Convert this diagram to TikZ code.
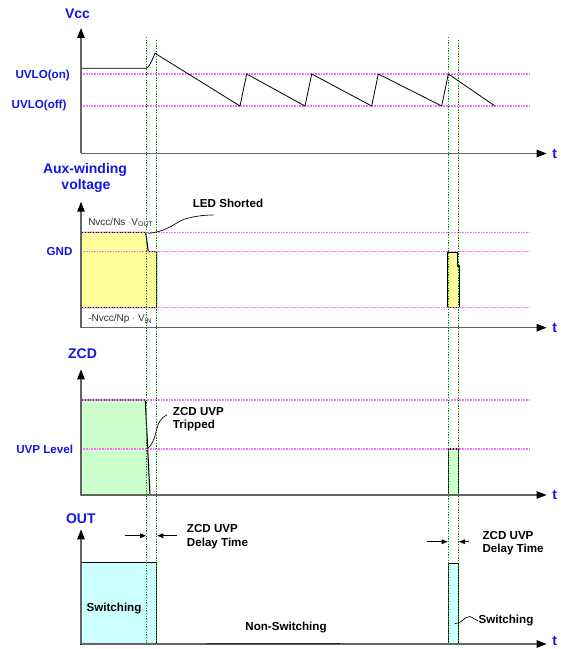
\documentclass[tikz,border=0pt]{standalone}
\usepackage{fontspec}
\setmainfont{Liberation Sans}
\usepackage{xcolor}
\usetikzlibrary{arrows.meta}

\definecolor{axisblue}{RGB}{20,20,230}
\definecolor{axisgray}{RGB}{100,100,100}
\definecolor{levelpink}{RGB}{255,110,255}
\definecolor{delaygreen}{RGB}{0,150,0}
\definecolor{auxyellow}{RGB}{255,255,153}
\definecolor{zcdgreen}{RGB}{204,255,204}
\definecolor{outcyan}{RGB}{204,255,255}

\newcommand{\sigfont}{\bfseries\fontsize{10.5}{12}\selectfont}
\newcommand{\lvlfont}{\bfseries\fontsize{8.7}{10}\selectfont}
\newcommand{\eqfont}{\fontsize{7.5}{9}\selectfont}

\begin{document}
\begin{tikzpicture}[x=0.75pt,y=0.75pt,yscale=-1,xscale=1,
  axis/.style={draw=axisgray,line width=1.1pt,-{Triangle[length=7.5pt,width=5.5pt,color=black]}},
  level/.style={draw=levelpink,line width=0.9pt,dash pattern=on 0.75pt off 0.45pt},
  delay/.style={draw=delaygreen,line width=0.6pt,dash pattern=on 1pt off 1pt},
  trace/.style={draw=black,line width=0.6pt},
  leader/.style={draw=black,line width=0.5pt},
  tick/.style={draw=black,line width=0.5pt,-{Triangle[length=4.5pt,width=3.5pt]}},
  pulse/.style={draw=black,line width=0.8pt},
  signame/.style={text=axisblue,font=\sigfont,inner sep=0pt},
  lvlname/.style={text=axisblue,font=\lvlfont,inner sep=0pt},
  note/.style={text=black,font=\lvlfont,inner sep=0pt,align=left},
  eqname/.style={text=black!80,font=\eqfont,inner sep=0pt}]
\useasboundingbox (0,0) rectangle (560,649);

% Fills
\draw [pulse,fill=auxyellow] (81,232.3) -- (145.7,232.3) -- (148.3,251.7) -- (156.7,251.7) -- (156.7,307.7) -- (81,307.7) -- cycle ;
\draw [pulse,fill=auxyellow] (447.3,252.3) -- (457.3,252.3) -- (457.3,266) -- (459.3,266) -- (459.3,307.7) -- (447.3,307.7) -- cycle ;
\draw [pulse,fill=zcdgreen] (81,400) -- (145.3,400) -- (150,495) -- (81,495) -- cycle ;
\draw [pulse,fill=zcdgreen] (448.3,449) rectangle (458.3,495) ;
\draw [pulse,fill=outcyan] (81,562.3) rectangle (156.7,644) ;
\draw [pulse,fill=outcyan] (448.3,563.3) rectangle (458.3,644) ;

% Levels
\foreach \y in {74,106,232.3,251.7,307.7,400,449}
  \draw [level] (81,\y) -- (530,\y) ;

% Delay marks
\foreach \x/\y in {146.7/37,156.7/40,448.3/37,458.3/40}
  \draw [delay] (\x,\y) -- (\x,644) ;

% Vcc trace
\draw [trace] (81,68.3) -- (146.7,68.3) .. controls (150,66) and (152,60) .. (155,53.3) -- (240,106) -- (246.7,74) -- (305,106) -- (311.7,74) -- (371.7,106) -- (378.3,74) -- (441.7,106) -- (448.3,74) -- (495,106) ;

% Axes
\foreach \y/\top/\ty in {153.5/28/153.5,327.7/201.7/327.7,495/369.3/495,644/529.3/641}{
  \draw [axis] (81,\y) -- (81,\top) ;
  \draw [axis] (81,\y) -- (546.7,\y) ;
  \node [signame,anchor=west] (t\y) at (552,\ty) {t};
}
\draw [draw=black!85,line width=1.3pt] (206.7,643.6) -- (340,643.6) ;

% Text Node
\node [signame] (vcc) at (77.5,13.5) {Vcc};
\node [lvlname,anchor=east] (uvloon) at (70,76) {UVLO(on)};
\node [lvlname,anchor=east] (uvlooff) at (66.7,106) {UVLO(off)};
% Text Node
\node [signame] (aux) at (85,169.5) {Aux-winding};
\node [signame] (auxv) at (86,186) {voltage};
\node [lvlname,anchor=east] (gnd) at (72.7,251.7) {GND};
\node [eqname,anchor=base west] (nsout) at (88,225) {Nvcc/Ns $\cdot$V\textsubscript{OUT}};
\node [eqname,anchor=base west] (npin) at (88,321.5) {-Nvcc/Np $\cdot$ V\textsubscript{IN}};
\node [note] (led) at (228,203.5) {LED Shorted};
% Text Node
\node [signame] (zcd) at (82.5,353.3) {ZCD};
\node [lvlname,anchor=east] (uvp) at (73.3,449) {UVP Level};
\node [note,anchor=north west] (trip) at (172.7,406.7) {ZCD UVP\\Tripped};
% Text Node
\node [signame] (out) at (80.8,518.3) {OUT};
\node [note] (swl) at (114,609) {Switching};
\node [note] (nsw) at (286,628) {Non-Switching};
\node [note,anchor=west] (swr) at (478.3,621) {Switching};
\node [note,anchor=north west] (dlyl) at (186.7,524.3) {ZCD UVP\\Delay Time};
\node [note,anchor=north west] (dlyr) at (482.3,531) {ZCD UVP\\Delay Time};

% Leaders
\coordinate (ledpt) at (148.3,233.3);
\coordinate (ledend) at (213.3,215);
\draw [leader] (ledpt) .. controls (170,231) and (175,222) .. (185,219) .. controls (195,216) and (205,215) .. (ledend) ;
\coordinate (trippt) at (147.3,449);
\coordinate (tripend) at (166.7,415);
\draw [leader] (trippt) .. controls (157,440) and (155,428) .. (160,421) .. controls (162,418) and (164,416) .. (tripend) ;
\coordinate (swpt) at (455,623.5);
\draw [leader] (swpt) .. controls (462,624) and (463,617) .. (470,616.5) -- (swr.west) ;

% Delay arrows
\coordinate (dl1) at (125,535.7);
\coordinate (dl2) at (146,535.7);
\coordinate (dl3) at (176.7,535.7);
\coordinate (dl4) at (157.3,535.7);
\draw [tick] (dl1) -- (dl2) ;
\draw [tick] (dl3) -- (dl4) ;
\coordinate (dr1) at (426.7,541.7);
\coordinate (dr2) at (447.7,541.7);
\coordinate (dr3) at (469,541.7);
\coordinate (dr4) at (459,541.7);
\draw [tick] (dr1) -- (dr2) ;
\draw [tick] (dr3) -- (dr4) ;
\end{tikzpicture}
\end{document}
